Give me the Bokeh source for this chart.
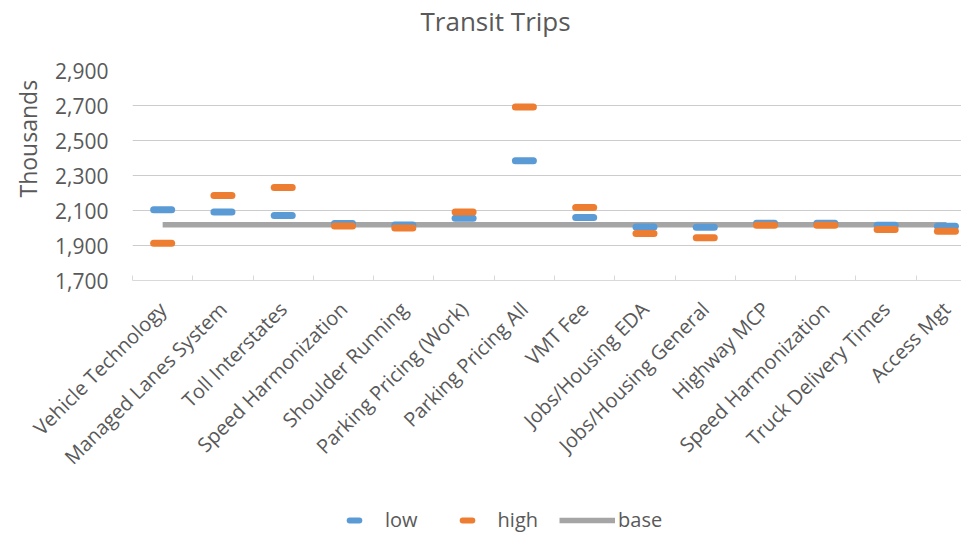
import math
from bokeh.plotting import figure
from bokeh.layouts import column
from bokeh.models import (Range1d, FixedTicker, NumeralTickFormatter, Legend, LegendItem,
                          Title, ColumnDataSource)
from bokeh.embed import file_html
from bokeh.resources import INLINE

categories = ["Vehicle Technology", "Managed Lanes System", "Toll Interstates",
              "Speed Harmonization", "Shoulder Running", "Parking Pricing (Work)",
              "Parking Pricing All", "VMT Fee", "Jobs/Housing EDA", "Jobs/Housing General",
              "Highway MCP", "Speed Harmonization", "Truck Delivery Times", "Access Mgt"]
low = [2104, 2092, 2071, 2026, 2017, 2056, 2384, 2060, 2006, 2004, 2027, 2027, 2016, 2010]
high = [1913, 2186, 2232, 2012, 2000, 2091, 2692, 2117, 1968, 1945, 2016, 2016, 1991, 1981]
base = [2019, 2019, 2019, 2019, 2019, 2019, 2019, 2019, 2019, 2019, 2019, 2019, 2019, 2019]
y_ticks = [1700, 1900, 2100, 2300, 2500, 2700, 2900]

FONT = "Open Sans"
TXT = "#595959"
C_LOW, C_HIGH, C_BASE = "#5B9BD5", "#ED7D31", "#A5A5A5"

xs = list(range(len(categories)))
src = ColumnDataSource(dict(x=xs, low=low, high=high, base=base))

# title strip
t = figure(width=961, height=44, x_range=Range1d(0, 1), y_range=Range1d(0, 1),
           output_backend="svg", toolbar_location=None,
           x_axis_location=None, y_axis_location=None,
           min_border_left=129, min_border_right=0, min_border_top=0, min_border_bottom=0)
t.outline_line_color = None
t.grid.grid_line_color = None
t.title = Title(text="Transit Trips", align="left", offset=288, standoff=8,
                vertical_align="top",
                text_font=FONT, text_font_size="26px", text_font_style="normal",
                text_color=TXT)

p = figure(width=961, height=451,
           x_range=Range1d(-0.5, 13.25), y_range=Range1d(y_ticks[0], y_ticks[-1]),
           output_backend="svg", toolbar_location=None,
           min_border_left=129, min_border_right=0, min_border_top=26, min_border_bottom=215)
p.outline_line_color = None

# y axis
p.yaxis.ticker = FixedTicker(ticks=y_ticks)
p.yaxis.formatter = NumeralTickFormatter(format="0,0")
p.yaxis.axis_line_color = None
p.yaxis.major_tick_line_color = None
p.yaxis.minor_tick_line_color = None
p.yaxis.major_tick_out = 0
p.yaxis.major_tick_in = 0
p.yaxis.major_label_standoff = 24
p.yaxis.major_label_text_font = FONT
p.yaxis.major_label_text_font_size = "21px"
p.yaxis.major_label_text_color = TXT

p.ygrid.ticker = FixedTicker(ticks=y_ticks)
p.ygrid.grid_line_color = "#cccccc"
p.ygrid.grid_line_width = 1
p.xgrid.grid_line_color = None

p.add_layout(Title(text="Thousands", align="left", offset=83, standoff=18,
                   text_font=FONT, text_font_size="23px", text_font_style="normal",
                   text_color=TXT), "left")

# x axis
p.xaxis.ticker = FixedTicker(ticks=xs, minor_ticks=[i - 0.5 for i in range(len(categories) + 1)])
p.xaxis.major_label_overrides = {i: c for i, c in enumerate(categories)}
p.xaxis.major_tick_line_color = None
p.xaxis.major_tick_out = 0
p.xaxis.major_tick_in = 0
p.xaxis.minor_tick_in = 5
p.xaxis.minor_tick_out = 0
p.xaxis.minor_tick_line_color = "#d9d9d9"
p.xaxis.axis_line_color = "#d9d9d9"
p.xaxis.major_label_orientation = math.pi / 4
p.xaxis.major_label_standoff = 25
p.xaxis.major_label_text_font = FONT
p.xaxis.major_label_text_font_size = "20px"
p.xaxis.major_label_text_color = TXT

p.line("x", "base", source=src, line_color=C_BASE, line_width=5.5)
p.scatter("x", "low", source=src, marker="dash", size=18,
          line_color=C_LOW, line_width=7, line_cap="round")
p.scatter("x", "high", source=src, marker="dash", size=18,
          line_color=C_HIGH, line_width=7, line_cap="round")

# legend strip below the chart
q = figure(width=961, height=38, x_range=Range1d(0, 1), y_range=Range1d(0, 1),
           output_backend="svg", toolbar_location=None,
           x_axis_location=None, y_axis_location=None,
           min_border_left=129, min_border_right=0, min_border_top=0, min_border_bottom=0)
q.outline_line_color = None
q.grid.grid_line_color = None
lb = q.line("x", "base", source=src, line_color=C_BASE, line_width=5.5, visible=False)
ll = q.scatter("x", "low", source=src, marker="dash", size=12,
               line_color=C_LOW, line_width=6, line_cap="round", visible=False)
lh = q.scatter("x", "high", source=src, marker="dash", size=12,
               line_color=C_HIGH, line_width=6, line_cap="round", visible=False)

legend = Legend(items=[LegendItem(label="low", renderers=[ll]),
                       LegendItem(label="high", renderers=[lh]),
                       LegendItem(label="base", renderers=[lb])],
                orientation="horizontal", location=(194, 0),
                glyph_width=56, glyph_height=24, label_standoff=3, spacing=21,
                padding=0, margin=0, border_line_color=None, background_fill_alpha=0,
                label_text_font=FONT, label_text_font_size="20px", label_text_color=TXT)
q.add_layout(legend)

layout = column(t, p, q, spacing=0)
open("out.html", "w").write(file_html(layout, INLINE))
